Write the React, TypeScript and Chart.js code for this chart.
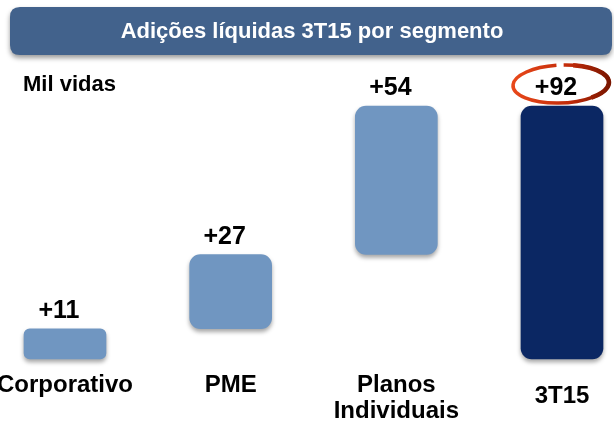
import React, { useEffect, useRef } from "react";
import { Chart, registerables } from "chart.js";

Chart.register(...registerables);

const title = "Adições líquidas 3T15 por segmento";
const unitLabel = "Mil vidas";
const categories: string[][] = [["Corporativo"], ["PME"], ["Planos", "Individuais"], ["3T15"]];
const barStarts = [0, 11, 38, 0];
const barEnds = [11, 38, 92, 92];
const valueLabels = ["+11", "+27", "+54", "+92"];
const isTotal = [false, false, false, true];

const FONT = '"Liberation Sans", Arial, sans-serif';

function roundRect(ctx: CanvasRenderingContext2D, x: number, y: number, w: number, h: number, r: number) {
  ctx.beginPath();
  ctx.moveTo(x + r, y);
  ctx.lineTo(x + w - r, y);
  ctx.quadraticCurveTo(x + w, y, x + w, y + r);
  ctx.lineTo(x + w, y + h - r);
  ctx.quadraticCurveTo(x + w, y + h, x + w - r, y + h);
  ctx.lineTo(x + r, y + h);
  ctx.quadraticCurveTo(x, y + h, x, y + h - r);
  ctx.lineTo(x, y + r);
  ctx.quadraticCurveTo(x, y, x + r, y);
  ctx.closePath();
}

const decorPlugin = {
  id: "decor",
  beforeDraw(chart: any) {
    const ctx: CanvasRenderingContext2D = chart.ctx;
    ctx.save();
    ctx.fillStyle = "#ffffff";
    ctx.fillRect(0, 0, chart.width, chart.height);
    // banner
    ctx.shadowColor = "rgba(0,0,0,0.4)";
    ctx.shadowBlur = 5;
    ctx.shadowOffsetY = 3;
    ctx.fillStyle = "#42628c";
    roundRect(ctx, 10, 7, 602, 48, 10);
    ctx.fill();
    ctx.restore();
    ctx.save();
    ctx.fillStyle = "#ffffff";
    ctx.font = `bold 22px ${FONT}`;
    ctx.textAlign = "center";
    ctx.textBaseline = "middle";
    ctx.fillText(title, 312, 32);
    ctx.fillStyle = "#000000";
    ctx.textAlign = "left";
    ctx.font = `bold 22px ${FONT}`;
    ctx.fillText(unitLabel, 23, 85);
    ctx.restore();
  },
  beforeDatasetsDraw(chart: any) {
    const ctx: CanvasRenderingContext2D = chart.ctx;
    ctx.save();
    ctx.shadowColor = "rgba(0,0,0,0.35)";
    ctx.shadowBlur = 4;
    ctx.shadowOffsetY = 3;
  },
  afterDatasetsDraw(chart: any) {
    const ctx: CanvasRenderingContext2D = chart.ctx;
    ctx.restore();
    const meta = chart.getDatasetMeta(0);
    ctx.save();
    ctx.fillStyle = "#000000";
    ctx.textAlign = "center";
    ctx.textBaseline = "bottom";
    ctx.font = `bold 25px ${FONT}`;
    meta.data.forEach((bar: any, i: number) => {
      ctx.fillText(valueLabels[i], bar.x - 6, bar.y - 5);
    });
    // category labels
    ctx.font = `bold 24px ${FONT}`;
    ctx.textBaseline = "middle";
    const xScale = chart.scales.x;
    categories.forEach((lines, i) => {
      const x = xScale.getPixelForValue(i);
      const startY = isTotal[i] ? 396 : 385;
      lines.forEach((line, j) => {
        ctx.fillText(line, x, startY + j * 26);
      });
    });
    // ellipse highlight around the total
    const totalBar = meta.data[3];
    const cx = totalBar.x - 1;
    const cy = totalBar.y - 22;
    const grad = ctx.createLinearGradient(cx - 48, 0, cx + 48, 0);
    grad.addColorStop(0, "#e8481a");
    grad.addColorStop(0.6, "#c02a08");
    grad.addColorStop(1, "#7a1600");
    ctx.strokeStyle = grad;
    ctx.lineWidth = 3.5;
    ctx.beginPath();
    ctx.ellipse(cx, cy, 48, 19, -0.04, -1.5, Math.PI * 2 - 1.65);
    ctx.stroke();
    ctx.lineWidth = 4.5;
    ctx.beginPath();
    ctx.ellipse(cx, cy, 48, 19, -0.04, -1.3, 0.9);
    ctx.stroke();
    ctx.restore();
  },
};

export default function App() {
  const ref = useRef<HTMLCanvasElement>(null);
  useEffect(() => {
    if (!ref.current) return;
    const chart = new Chart(ref.current, {
      type: "bar",
      data: {
        labels: categories.map((c) => c.join(" ")),
        datasets: [
          {
            data: barStarts.map((s, i) => [s, barEnds[i]]) as any,
            backgroundColor: (c: any) => {
              const i = c.dataIndex;
              if (!isTotal[i]) return "#7096c1";
              const el = c.chart.getDatasetMeta(0).data[i];
              if (!el || el.x === undefined) return "#0b2763";
              const g = c.chart.ctx.createLinearGradient(el.x - 41, 0, el.x + 41, 0);
              g.addColorStop(0, "#1d3d7c");
              g.addColorStop(0.12, "#0c2a66");
              g.addColorStop(0.88, "#0c2a66");
              g.addColorStop(1, "#1d3d7c");
              return g;
            },
            borderWidth: 0,
            borderRadius: (c: any) => (c.dataIndex === 0 ? 6 : 11),
            borderSkipped: false,
            barThickness: 82,
            clip: false as any,
          },
        ],
      },
      options: {
        animation: false,
        responsive: false,
        layout: { padding: { left: 65, right: 52, top: 84, bottom: 62 } },
        plugins: { legend: { display: false }, tooltip: { enabled: false } },
        scales: {
          x: { type: "category", offset: false, display: false, grid: { display: false } },
          y: { min: 0, max: 100, display: false, grid: { display: false } },
        },
      },
      plugins: [decorPlugin],
    });
    return () => chart.destroy();
  }, []);
  return (
    <div style={{ position: "absolute", left: 0, top: 0, width: 614, height: 421 }}>
      <canvas ref={ref} width={614} height={421} style={{ width: 614, height: 421 }} />
    </div>
  );
}
